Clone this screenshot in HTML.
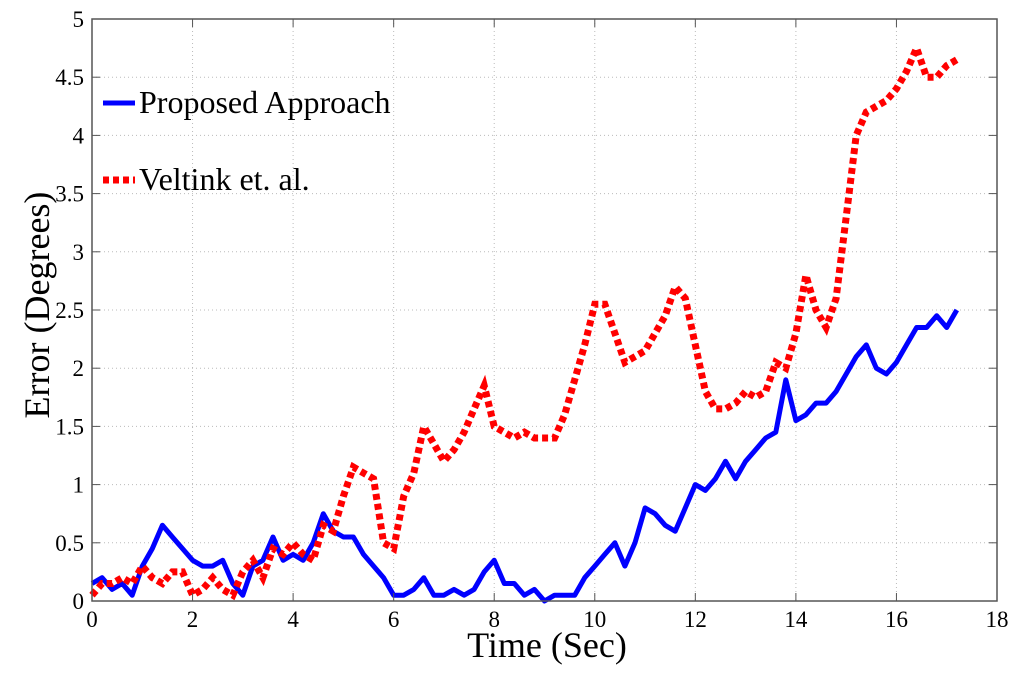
<!DOCTYPE html>
<html><head><meta charset="utf-8"><style>
body{margin:0;background:#fff}
svg{display:block;font-family:"Liberation Serif",serif}
</style></head><body>
<svg id="chart" width="1024" height="680" viewBox="0 0 1024 680">
<g id="grid"></g>
<g id="series"></g>
<rect x="92" y="19" width="905" height="582" fill="none" stroke="#555" stroke-width="1.5"/>
<g id="ticks"></g>
<text x="547" y="657" font-size="36" text-anchor="middle">Time (Sec)</text>
<text transform="translate(49,305) rotate(-90)" font-size="36" text-anchor="middle">Error (Degrees)</text>
<g>
<g><line x1="103" y1="103" x2="135" y2="103" stroke="#0000ff" stroke-width="5"/><text x="139" y="113" font-size="32">Proposed Approach</text></g>
<g><line x1="103" y1="180" x2="135" y2="180" stroke="#ff0000" stroke-width="7" stroke-dasharray="6 4"/><text x="139" y="190" font-size="32">Veltink et. al.</text></g>
</g>
</svg>
<script>
const times=[0,0.2,0.4,0.6,0.8,1.0,1.2,1.4,1.6,1.8,2.0,2.2,2.4,2.6,2.8,3.0,3.2,3.4,3.6,3.8,4.0,4.2,4.4,4.6,4.8,5.0,5.2,5.4,5.6,5.8,6.0,6.2,6.4,6.6,6.8,7.0,7.2,7.4,7.6,7.8,8.0,8.2,8.4,8.6,8.8,9.0,9.2,9.4,9.6,9.8,10.0,10.2,10.4,10.6,10.8,11.0,11.2,11.4,11.6,11.8,12.0,12.2,12.4,12.6,12.8,13.0,13.2,13.4,13.6,13.8,14.0,14.2,14.4,14.6,14.8,15.0,15.2,15.4,15.6,15.8,16.0,16.2,16.4,16.6,16.8,17.0,17.2];
const proposed=[0.15,0.2,0.1,0.15,0.05,0.3,0.45,0.65,0.55,0.45,0.35,0.3,0.3,0.35,0.15,0.05,0.3,0.35,0.55,0.35,0.4,0.35,0.5,0.75,0.6,0.55,0.55,0.4,0.3,0.2,0.05,0.05,0.1,0.2,0.05,0.05,0.1,0.05,0.1,0.25,0.35,0.15,0.15,0.05,0.1,0.0,0.05,0.05,0.05,0.2,0.3,0.4,0.5,0.3,0.5,0.8,0.75,0.65,0.6,0.8,1.0,0.95,1.05,1.2,1.05,1.2,1.3,1.4,1.45,1.9,1.55,1.6,1.7,1.7,1.8,1.95,2.1,2.2,2.0,1.95,2.05,2.2,2.35,2.35,2.45,2.35,2.5];
const veltink=[0.05,0.15,0.15,0.2,0.15,0.3,0.2,0.15,0.25,0.25,0.05,0.1,0.2,0.1,0.05,0.25,0.35,0.2,0.45,0.4,0.5,0.4,0.35,0.65,0.6,0.9,1.15,1.1,1.05,0.5,0.45,0.9,1.1,1.5,1.35,1.2,1.3,1.45,1.65,1.85,1.5,1.45,1.4,1.45,1.4,1.4,1.4,1.6,1.9,2.2,2.55,2.55,2.3,2.05,2.1,2.15,2.3,2.45,2.7,2.6,2.2,1.8,1.65,1.65,1.7,1.8,1.75,1.8,2.05,2.0,2.3,2.8,2.5,2.35,2.6,3.3,4.0,4.2,4.25,4.3,4.4,4.55,4.75,4.5,4.5,4.6,4.65];
const xTicks=[0,2,4,6,8,10,12,14,16,18];
const yTicks=[0,0.5,1,1.5,2,2.5,3,3.5,4,4.5,5];
const yTickLabels=["0","0.5","1","1.5","2","2.5","3","3.5","4","4.5","5"];
const NS="http://www.w3.org/2000/svg";
const X=v=>92+v*(905/18), Y=v=>601-v*(582/5);
function mk(tag,attrs,parent){const e=document.createElementNS(NS,tag);for(const k in attrs)e.setAttribute(k,attrs[k]);parent.appendChild(e);return e;}
const grid=document.getElementById('grid'),ticks=document.getElementById('ticks'),series=document.getElementById('series');
xTicks.forEach(t=>{
 const x=X(t);
 if(t>0&&t<18){const g=mk('line',{x1:x,y1:19,x2:x,y2:601,stroke:'#bbb','stroke-width':1,'stroke-dasharray':'1 3'},grid);
 
 }
 mk('line',{x1:x,y1:601,x2:x,y2:593,stroke:'#555'},ticks);
 mk('line',{x1:x,y1:19,x2:x,y2:27,stroke:'#555'},ticks);
 const l=mk('text',{x:x,y:627,'font-size':23,'text-anchor':'middle'},ticks);l.textContent=t;
 
 
});
yTicks.forEach((t,i)=>{
 const y=Y(t);
 if(t>0&&t<5){const g=mk('line',{x1:92,y1:y,x2:997,y2:y,stroke:'#bbb','stroke-width':1,'stroke-dasharray':'1 3'},grid);
 
 }
 mk('line',{x1:92,y1:y,x2:100,y2:y,stroke:'#555'},ticks);
 mk('line',{x1:989,y1:y,x2:997,y2:y,stroke:'#555'},ticks);
 const l=mk('text',{x:84,y:y+8,'font-size':23,'text-anchor':'end'},ticks);l.textContent=yTickLabels[i];
 
 
});
function pts(arr){return arr.map((v,i)=>X(times[i]).toFixed(1)+','+Y(v).toFixed(1)).join(' ');}
const pb=mk('polyline',{points:pts(proposed),fill:'none',stroke:'#0000ff','stroke-width':5,'stroke-linejoin':'round'},series);


const pr=mk('polyline',{points:pts(veltink),fill:'none',stroke:'#ff0000','stroke-width':7,'stroke-dasharray':'6 4'},series);


</script>
</body></html>
